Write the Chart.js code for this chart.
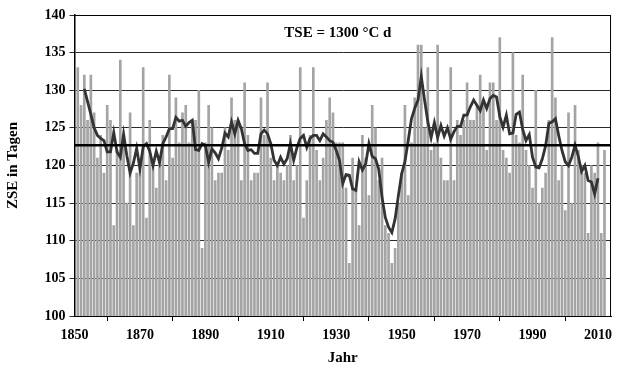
<!DOCTYPE html>
<html lang="de">
<head>
    <meta charset="UTF-8">
    <title>ZSE in Tagen</title>
    <style>
        body { margin: 0; background: #fff; }
    </style>
</head>
<body>

<canvas id="myChart" width="618" height="368"></canvas>

<script src="https://cdn.jsdelivr.net/npm/chart.js"></script>
<script>
    // yearly values, first bar is 1851
    const firstYear = 1851;
    const zseValues = [
        133, 128, 132, 126, 132, 127, 121, 124, 119, 128,
        126, 112, 122, 134, 124, 115, 127, 112, 119, 120,
        133, 113, 126, 120, 117, 121, 124, 118, 132, 121,
        129, 123, 127, 128, 123, 126, 126, 130, 109, 123,
        128, 125, 118, 119, 119, 125, 122, 129, 126, 126,
        118, 131, 124, 118, 119, 119, 129, 124, 131, 121,
        118, 120, 119, 118, 120, 124, 118, 120, 133, 113,
        118, 124, 133, 122, 118, 121, 126, 129, 127, 123,
        123, 123, 117, 107, 121, 117, 112, 124, 121, 116,
        128, 125, 118, 121, 112, 111, 107, 109, 115, 119,
        128, 116, 123, 129, 136, 136, 125, 133, 122, 123,
        136, 121, 118, 118, 133, 118, 126, 124, 126, 131,
        126, 126, 128, 132, 128, 122, 131, 131, 126, 137,
        122, 121, 119, 135, 124, 123, 132, 122, 120, 117,
        130, 115, 117, 119, 126, 137, 129, 118, 120, 114,
        127, 115, 128, 122, 120, 119, 111, 120, 119, 123,
        111, 122
    ];

    // smoothed curve, first point 1853
    const smoothFirstYear = 1853;
    const smoothValues = [
        130.2, 128.5, 126.8, 125.0, 124.0, 123.6, 123.3, 121.8, 121.8, 124.4,
        121.8, 121.1, 124.2, 121.3, 119.0, 120.3, 122.3, 119.6, 122.5, 122.9,
        121.9, 120.0, 121.9, 120.4, 122.9, 123.8, 124.9, 124.9, 126.4, 125.9,
        126.0, 125.2, 125.7, 126.0, 122.1, 122.0, 122.9, 122.7, 120.4, 122.2,
        121.7, 120.9, 122.3, 124.3, 123.8, 125.8, 124.2, 126.0, 124.9, 122.9,
        122.0, 122.1, 121.6, 121.6, 124.2, 124.7, 124.2, 122.9, 120.7, 120.0,
        121.1, 120.2, 120.9, 122.9, 120.7, 122.4, 123.6, 124.0, 122.4, 123.6,
        124.0, 124.0, 123.3, 124.2, 123.8, 123.3, 123.1, 122.0, 120.7, 117.6,
        118.8, 118.7, 116.9, 116.7, 120.5, 119.4, 120.2, 122.9, 121.2, 120.9,
        119.5, 115.8, 113.1, 111.8, 111.1, 112.9, 116.0, 118.9, 120.5, 123.3,
        126.2, 127.6, 128.7, 131.8, 128.7, 125.8, 123.7, 125.7, 123.7, 125.3,
        123.9, 125.0, 123.5, 124.5, 125.2, 125.2, 126.7, 126.7, 127.8, 128.7,
        128.0, 127.3, 128.7, 127.6, 128.9, 129.3, 129.1, 126.5, 125.1, 126.7,
        124.2, 124.3, 126.8, 127.1, 124.8, 123.3, 124.1, 121.1, 119.8, 119.7,
        120.9, 122.6, 125.6, 125.8, 126.2, 124.0, 122.0, 120.5, 120.0, 121.1,
        122.7, 121.2, 119.2, 120.0, 118.0, 117.8, 116.2, 118.3
    ];

    const meanValue = 122.7;
    const xTicks = [1850, 1870, 1890, 1910, 1930, 1950, 1970, 1990, 2010];
    const yTicks = [100, 105, 110, 115, 120, 125, 130, 135, 140];
    const xMin = 1850;
    const xMax = 2014;
    const labelText = 'TSE = 1300 °C d';

    const serif = '"Liberation Serif", "Times New Roman", serif';

    let chart;

    const extras = {
        id: 'extras',
        afterDatasetsDraw(c) {
            const ctx = c.ctx;
            const a = c.chartArea;
            ctx.save();
            ctx.strokeStyle = '#000';
            ctx.lineWidth = 1;
            ctx.strokeRect(a.left, a.top + 0.5, a.right - a.left - 0.5, a.bottom - a.top);
            ctx.fillStyle = '#000';
            ctx.font = 'bold 15px ' + serif;
            ctx.textAlign = 'center';
            ctx.textBaseline = 'middle';
            ctx.fillText(labelText, c.scales.x.getPixelForValue(1930.5), c.scales.y.getPixelForValue(137.6));
            ctx.restore();
        }
    };

    function init() {
        let ctx = document.getElementById("myChart").getContext('2d');
        let bars = zseValues.map((v, i) => ({x: firstYear + i, y: v}));
        let smooth = smoothValues.map((v, i) => ({x: smoothFirstYear + i, y: v}));
        let mean = [{x: xMin, y: meanValue}, {x: xMax, y: meanValue}];

        chart = new Chart(ctx, {
            type: 'bar',
            data: {
                datasets: [
                    {
                        type: 'line',
                        data: mean,
                        borderColor: '#000',
                        borderWidth: 2.5,
                        pointRadius: 0,
                        order: 1,
                    },
                    {
                        type: 'line',
                        data: smooth,
                        borderColor: '#333',
                        borderWidth: 2.8,
                        pointRadius: 0,
                        tension: 0,
                        order: 2,
                    },
                    {
                        data: bars,
                        backgroundColor: '#a4a4a4',
                        barThickness: 2,
                        grouped: false,
                        order: 3,
                    },
                ],
            },
            options: {
                responsive: false,
                animation: false,
                layout: {
                    padding: {top: 15, right: 2, left: 0, bottom: 0}
                },
                plugins: {
                    legend: {display: false},
                    tooltip: {enabled: false},
                },
                scales: {
                    x: {
                        type: 'linear',
                        min: xMin,
                        max: xMax,
                        offset: false,
                        afterBuildTicks: s => { s.ticks = xTicks.map(v => ({value: v})); },
                        afterFit: s => { s.height = 52; },
                        ticks: {
                            color: '#000',
                            font: {family: serif, size: 14, weight: 'bold'},
                            maxRotation: 0,
                            autoSkip: false,
                            padding: 6,
                            callback: v => String(v),
                        },
                        grid: {
                            drawOnChartArea: false,
                            drawTicks: true,
                            tickLength: 5,
                            color: '#000',
                        },
                        border: {color: '#000', width: 1},
                        title: {
                            display: true,
                            text: 'Jahr',
                            color: '#000',
                            font: {family: serif, size: 15, weight: 'bold'},
                            padding: {top: 0, bottom: 1},
                        },
                    },
                    y: {
                        min: 100,
                        max: 140,
                        afterBuildTicks: s => { s.ticks = yTicks.map(v => ({value: v})); },
                        afterFit: s => { s.width = 74.5; },
                        ticks: {
                            color: '#000',
                            font: {family: serif, size: 14, weight: 'bold'},
                            padding: 4,
                        },
                        grid: {
                            color: '#2a2a2a',
                            lineWidth: 1,
                            tickLength: 5,
                        },
                        border: {color: '#000', width: 1.5},
                        title: {
                            display: true,
                            text: 'ZSE in Tagen',
                            color: '#000',
                            font: {family: serif, size: 15, weight: 'bold'},
                            padding: {top: 4, bottom: 0},
                        },
                    },
                },
            },
            plugins: [extras],
        });
    }

    document.addEventListener('DOMContentLoaded', init);
</script>

</body>
</html>
